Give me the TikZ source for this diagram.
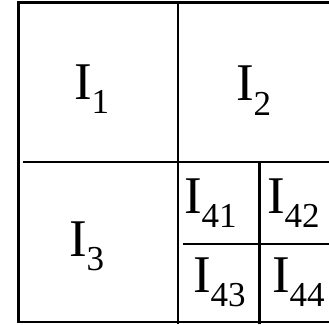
\documentclass[tikz,border=0pt]{standalone}
\usepackage{fontspec}
\setmainfont{Liberation Serif}
\newcommand{\lbl}[1]{{\fontsize{53}{53}\selectfont I}\raisebox{-14.5pt}{\fontsize{35}{35}\selectfont #1}}
\begin{document}
\begin{tikzpicture}[x=1pt,y=-1pt,
  gridline/.style={line width=2.5pt,line cap=butt},
  subline/.style={line width=2.3pt,line cap=butt},
  lab/.style={anchor=base west,inner sep=0pt,outer sep=0pt}]
\useasboundingbox (0,0) rectangle (329,324);
% corners and junction coordinates
\coordinate (tl) at (18.5,2.5);
\coordinate (tr) at (331,2.5);
\coordinate (bl) at (18.5,322.2);
\coordinate (br) at (331,322.2);
\coordinate (mt) at (178,1.25);
\coordinate (mb) at (178,323.5);
\coordinate (hl) at (23,162);
\coordinate (hr) at (331,162);
\coordinate (st) at (259.5,162);
\coordinate (sb) at (259.5,323.5);
\coordinate (sl) at (183.3,244);
\coordinate (sr) at (331,244);
\draw[gridline] (tr) -- ([xshift=-1.25pt]tl) ;
\draw[gridline] ([yshift=-1.25pt]tl) -- ([yshift=1.25pt]bl);
\draw[gridline] ([xshift=-1.25pt]bl) -- (br);
\draw[gridline] (mt) -- (mb);
\draw[gridline] (hl) -- (hr);
\draw[subline] (st) -- (sb);
\draw[subline] (sl) -- (sr);
% labels
\node[lab] (i1) at (74,99) {\lbl{1}};
\node[lab] (i2) at (236,100.5) {\lbl{2}};
\node[lab] (i3) at (69,256) {\lbl{3}};
\node[lab] (i41) at (184,213) {\lbl{41}};
\node[lab] (i42) at (267,213) {\lbl{42}};
\node[lab] (i43) at (193,292) {\lbl{43}};
\node[lab] (i44) at (272,292) {\lbl{44}};
\end{tikzpicture}
\end{document}
